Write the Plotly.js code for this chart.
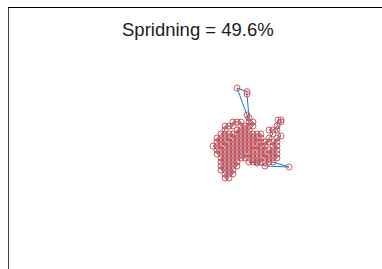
<!DOCTYPE html>
<html>
<head>
<meta charset="utf-8">
<script src="https://cdn.plot.ly/plotly-3.0.1.min.js"></script>
<style>html,body{margin:0;padding:0;background:#fff;}#chart{width:382px;height:269px;}</style>
</head>
<body>
<div id="chart"></div>
<script>
// Walk positions (lattice units), in visiting order
const walkX = [4,3,3,4,5,5,4,3,2,2,3,4,5,6,6,5,4,3,2,2,
  3,4,5,6,7,8,8,7,6,5,4,3,2,1,1,0,1,2,2,3,4,5,6,7,8,9,10,10,9,8,7,6,5,4,3,3,2,1,1,2,3,4,4,5,6,7,8,9,10,11,11,10,9,8,7,6,5,5,4,3,2,
  3,3,4,5,5,6,7,7,8,9,9,8.5,6,8.5,8.5,9,10,10,9,8,7,6,6,7,8,9,10,11,12,12,12,12,11,11,12,13,13,13,14,14,15,14,15,16,16.25,17,17,16,17,16,16,15,15,16,16,15,14,14,15,16,16,15,14,13,13,12,11,10,9,9,10,11,12,12,11,10,9,11,13,19,15,14,13];
const walkY = [0,0,1,1,1,2,2,2,2,3,3,3,3,3,4,4,4,4,4,5,
  5,5,5,5,5,5,6,6,6,6,6,6,6,6,7,8,8,8,7,7,7,7,7,7,7,7,7,8,8,8,8,8,8,8,8,9,9,9,10,10,10,10,9,9,9,9,9,9,9,9,10,10,10,10,10,10,10,11,11,11,11,
  12,13,13,13,14,14,14,13,13,13,14,15.75,22.5,21.6,21,15,14,13,12,12,12,12,11,11,11,11,11,11,11,10,9,8,8,7,7,7,8,9,9,10,11,12,12,13,14.5,14.5,14,12,10.5,10,9,9,8,8,7,7,7,6,6,6,5,5,5,5,6,6,6,6,6,5,5,5,5,4,4,4,4,3.75,3,2.75,4,4,4];

const titleText = 'Spridning = 49.6%';

const trace = {
  x: walkX, y: walkY, type: 'scatter', mode: 'lines+markers',
  line: {color: '#0A7FC8', width: 1},
  marker: {symbol: 'circle-open', size: 6, color: '#D94545', line: {width: 0.9, color: '#D94545'}},
  hoverinfo: 'skip'
};

const layout = {
  width: 382, height: 269,
  margin: {l: 9, r: 0, t: 8, b: 0, pad: 0},
  paper_bgcolor: '#fff', plot_bgcolor: '#fff',
  showlegend: false,
  title: {text: titleText, font: {family: 'Liberation Sans, Arial, sans-serif', size: 18.5, color: '#1a1a1a'},
          xref: 'container', x: 0.518, xanchor: 'center', yref: 'container', y: 0.892, yanchor: 'middle'},
  xaxis: {range: [-51, 42.25], side: 'top', showline: true, linecolor: '#000', linewidth: 1.2,
          showgrid: false, zeroline: false, showticklabels: false, ticks: ''},
  yaxis: {range: [-22.75, 42.5], showline: true, linecolor: '#444', linewidth: 1.5,
          showgrid: false, zeroline: false, showticklabels: false, ticks: ''}
};

Plotly.newPlot('chart', [trace], layout, {staticPlot: true, displayModeBar: false});
</script>
</body>
</html>
